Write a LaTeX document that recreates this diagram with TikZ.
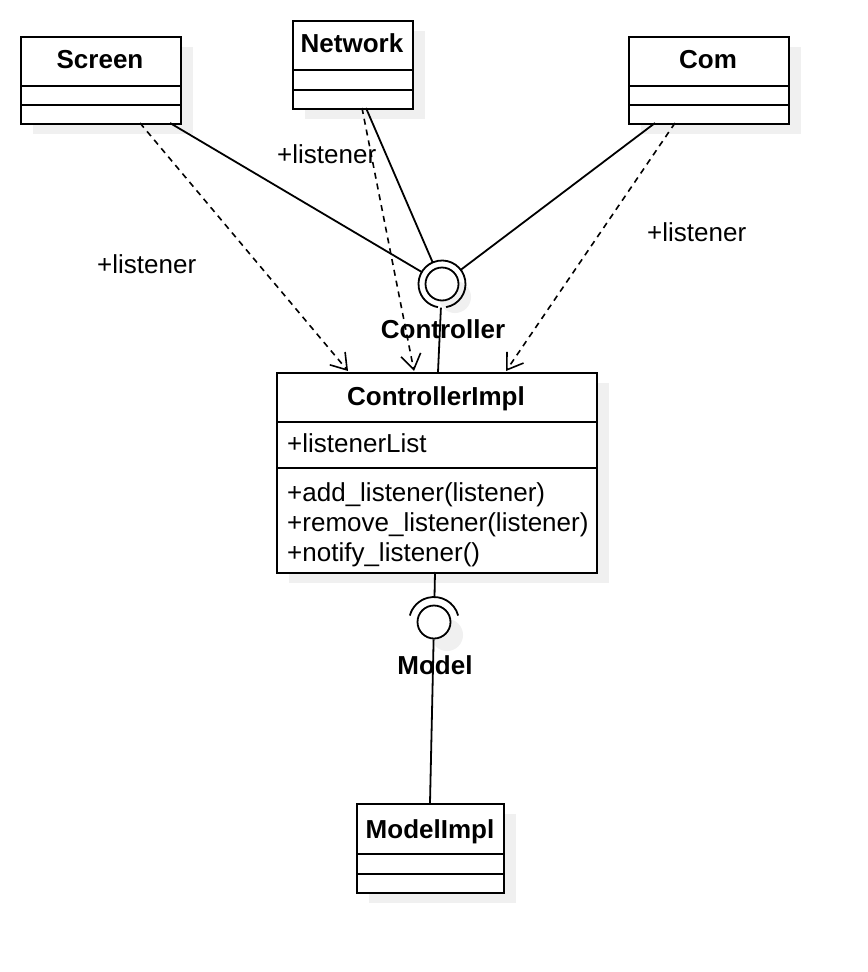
\documentclass[tikz,border=0pt]{standalone}
\usepackage{fontspec}
\setmainfont{Liberation Sans}
\newfontfamily\umlfam{Liberation Sans}
\newcommand\umlfont{\umlfam\fontsize{26bp}{30bp}\selectfont}
\newcommand\umlbold{\umlfam\bfseries\fontsize{26bp}{30bp}\selectfont}
\usetikzlibrary{arrows.meta}
\definecolor{shadowgray}{RGB}{240,240,240}
\begin{document}
\begin{tikzpicture}[x=1bp,y=-1bp,
  box/.style={draw, line width=2bp, fill=white, inner sep=0, anchor=north west},
  sep/.style={line width=2bp},
  conn/.style={line width=1.8bp},
  dep/.style={line width=1.6bp, dash pattern=on 6bp off 5bp,
     -{Straight Barb[length=15bp,width=20bp,line width=1.6bp]}},
  ball/.style={circle, draw, line width=1.8bp, fill=white, inner sep=0, minimum size=33bp},
  sockzone/.style={circle, inner sep=0, minimum size=47bp},
  lbl/.style={inner sep=0, font=\umlfont},
  ttl/.style={inner sep=0, font=\umlbold}]

\useasboundingbox[fill=white] (0,0) rectangle (868,972);

% shadows
\fill[shadowgray] (33,47) rectangle (193,134);
\fill[shadowgray] (305,31) rectangle (425,119);
\fill[shadowgray] (641,47) rectangle (801,134);
\fill[shadowgray] (289,383) rectangle (609,583);
\fill[shadowgray] (369,814) rectangle (516,903);
\fill[shadowgray] (455,297) circle[radius=16bp];
\fill[shadowgray] (447,635) circle[radius=16bp];

% class boxes
\node[box, minimum width=160bp, minimum height=87bp] (screen) at (20,36) {};
\draw[sep] (20,86) -- (180,86);
\draw[sep] (20,105) -- (180,105);
\node[ttl, anchor=base] (screenT) at (100,68) {Screen};

\node[box, minimum width=120bp, minimum height=88bp] (network) at (292,20) {};
\draw[sep] (292,70) -- (412,70);
\draw[sep] (292,90) -- (412,90);
\node[ttl, anchor=base] (networkT) at (352,52) {Network};

\node[box, minimum width=160bp, minimum height=87bp] (com) at (628,36) {};
\draw[sep] (628,86) -- (788,86);
\draw[sep] (628,105) -- (788,105);
\node[ttl, anchor=base] (comT) at (708,68) {Com};

\node[box, minimum width=320bp, minimum height=200bp] (ci) at (276,372) {};
\draw[sep] (276,422) -- (596,422);
\draw[sep] (276,468) -- (596,468);
\node[ttl, anchor=base] (ciT) at (436,405) {ControllerImpl};
\node[lbl, anchor=base west] (attr) at (287,452) {+listenerList};
\node[lbl, anchor=base west] (op1) at (287,501) {+add\_listener(listener)};
\node[lbl, anchor=base west] (op2) at (287,531) {+remove\_listener(listener)};
\node[lbl, anchor=base west] (op3) at (287,561) {+notify\_listener()};

\node[box, minimum width=147bp, minimum height=89bp] (mi) at (356,803) {};
\draw[sep] (356,854) -- (503,854);
\draw[sep] (356,874) -- (503,874);
\node[ttl, anchor=base] (miT) at (430,838) {ModelImpl};

% Controller interface (ball and socket)
\node[sockzone] (ctrlsock) at (442,284) {};
\node[ball] (ctrl) at (442,284) {};
\draw[conn] (ctrl.center) ++(-80:23.5bp) arc[start angle=-80, end angle=260, radius=23.5bp];
\node[ttl, anchor=base] (ctrlT) at (443,338) {Controller};

% Model interface
\node[ball] (model) at (434,622) {};
\draw[conn] (model.center) ++(15:25bp) arc[start angle=15, end angle=165, radius=25bp];
\node[ttl, anchor=base] (modelT) at (435,674) {Model};

% connector end points
\coordinate (scrS) at (170,123);
\coordinate (scrD) at (140,123);
\coordinate (netS) at (366,108);
\coordinate (netD) at (362,108);
\coordinate (comS) at (655,123);
\coordinate (comD) at (675,123);
\coordinate (ciA) at (348,371);
\coordinate (ciB) at (414,371);
\coordinate (ciC) at (506,371);
\coordinate (ciTop) at (438,372);
\coordinate (ciBot) at (435,572);
\coordinate (mtop) at (434.5,597);
\coordinate (miTop) at (430,803);

% required interface lines
\draw[conn] (scrS) -- (ctrlsock);
\draw[conn] (netS) -- (ctrlsock);
\draw[conn] (comS) -- (ctrlsock);
\draw[conn] (ciTop) -- (ctrlsock);
\draw[conn] (ciBot) -- (mtop);
\draw[conn] (miTop) -- (model);

% dependencies
\draw[dep] (scrD) -- (ciA);
\draw[dep] (netD) -- (ciB);
\draw[dep] (comD) -- (ciC);

% labels
\node[lbl, anchor=base west] (l1) at (277,163) {+listener};
\node[lbl, anchor=base west] (l2) at (97,273) {+listener};
\node[lbl, anchor=base west] (l3) at (647,241) {+listener};

\end{tikzpicture}
\end{document}
